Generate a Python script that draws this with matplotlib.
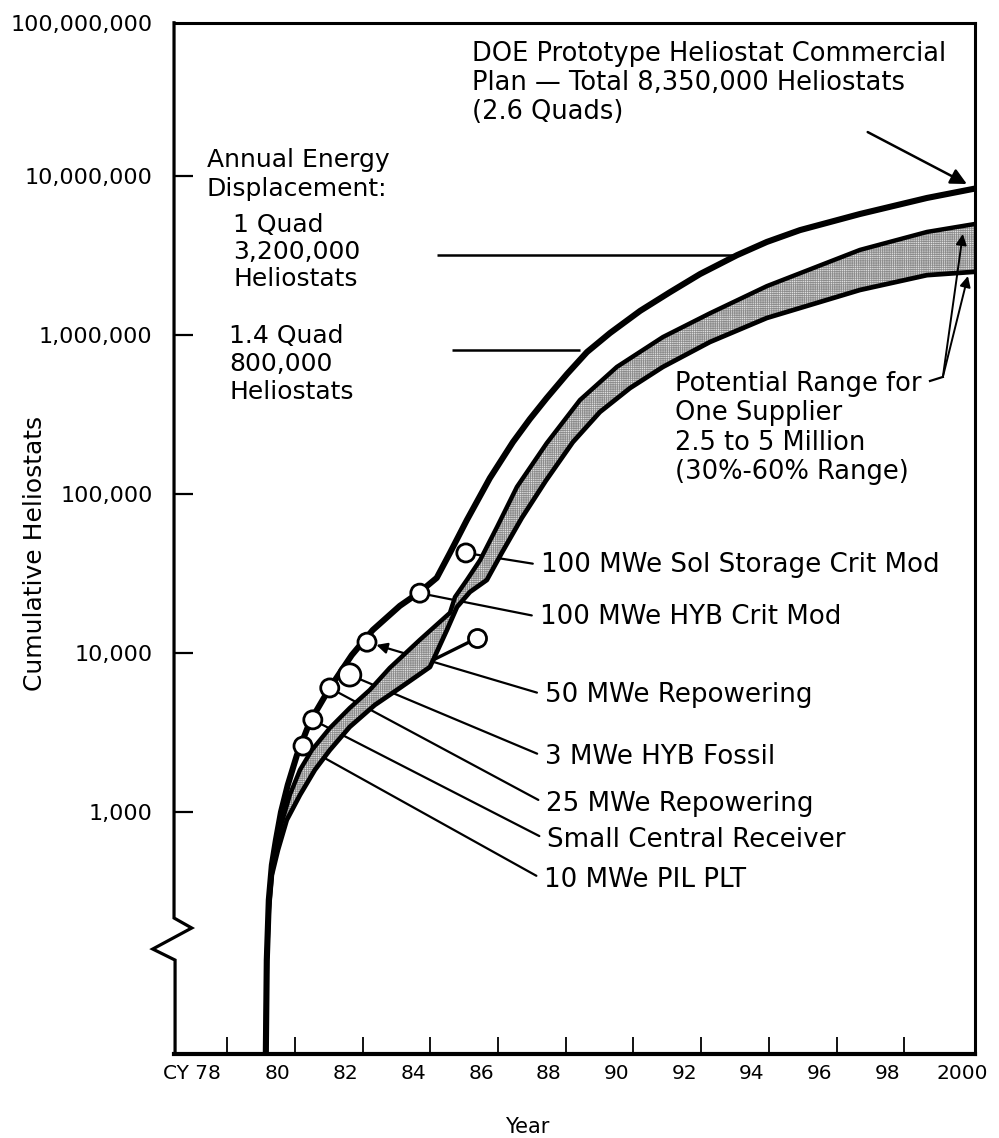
import matplotlib.pyplot as plt
from matplotlib.transforms import ScaledTranslation
from matplotlib.lines import Line2D

plt.rcParams["font.family"] = ["DejaVu Sans"]
plt.rcParams["hatch.linewidth"] = 0.5

# DOE prototype heliostat commercial plan (cumulative heliostats)
plan_year = [79.14, 79.17, 79.23, 79.32, 79.44, 79.59, 79.79, 80.06, 80.44, 81.03,
             81.68, 82.30, 83.10, 83.69, 84.19, 84.58, 85.08, 85.76, 86.44, 86.94,
             87.44, 88.04, 88.63, 89.31, 90.20, 91.08, 91.97, 93.06, 93.94, 94.92,
             96.69, 98.67, 100.1]
plan_count = [28, 117, 280, 464, 667, 1000, 1480, 2280, 3680, 6030,
              9700, 13950, 19800, 24200, 29700, 42600, 68600, 126000, 212000, 296000,
              402000, 569000, 782000, 1.03e6, 1.42e6, 1.86e6, 2.42e6, 3.18e6, 3.85e6, 4.57e6,
              5.77e6, 7.28e6, 8.35e6]

# potential range for one supplier (upper / lower edge of the band)
upper_year = [79.32, 79.41, 79.59, 79.85, 80.15, 80.50, 81.03, 81.62, 82.21, 82.80,
              83.69, 84.58, 84.73, 85.08, 85.47, 85.97, 86.56, 87.44, 88.42, 89.51,
              90.87, 92.26, 93.94, 96.69, 98.67, 100.1]
upper_count = [431, 577, 828, 1280, 1840, 2450, 3370, 4510, 5850, 8050,
               12100, 17900, 22500, 28800, 38400, 62000, 111000, 209000, 390000, 630000,
               971000, 1.37e6, 2.03e6, 3.43e6, 4.45e6, 5.0e6]
lower_year = [79.14, 79.17, 79.23, 79.32, 79.50, 79.76, 80.15, 80.59, 81.03, 81.62,
              82.36, 83.10, 83.99, 84.49, 84.79, 85.17, 85.67, 86.11, 86.70, 87.41,
              88.21, 89.01, 89.90, 90.87, 92.26, 93.94, 96.69, 98.67, 100.1]
lower_count = [28, 117, 242, 402, 577, 891, 1280, 1840, 2450, 3430,
               4710, 6030, 8170, 13950, 19500, 24200, 28800, 42600, 70600, 121000,
               212000, 328000, 464000, 630000, 904000, 1.28e6, 1.92e6, 2.38e6, 2.5e6]

# plants
plant_names = ["100 MWe Sol Storage Crit Mod", "100 MWe HYB Crit Mod", "50 MWe Repowering",
               "3 MWe HYB Fossil", "25 MWe Repowering", "Small Central Receiver",
               "10 MWe PIL PLT"]
plant_year = [85.05, 83.69, 82.13, 81.62, 81.03, 80.53, 80.24]
plant_count = [42600, 23800, 11700, 7280, 6030, 3800, 2600]
label_pos = [(0.4582, 0.4742), (0.4569, 0.4237), (0.4632, 0.3481), (0.4632, 0.2880),
             (0.4644, 0.2424), (0.4657, 0.2075), (0.4619, 0.1687)]
label_head = [False, False, True, False, False, False, False]
marker_size = [13, 13, 13, 16, 13, 13, 13]

branch_year = [84.08, 85.38]
branch_count = [9040, 12400]

# annual energy displacement levels
quad_count = [3.2e6, 8.0e5]
quad_start = [84.19, 84.64]
quad_end = [93.06, 88.42]

# pointers
doe_from, doe_to = (96.92, 1.89e7), (99.85, 8.91e6)
range_hook_year = [98.76, 99.14]
range_hook_count = [514000, 545000]
range_tips = [(99.73, 4.32e6), (99.88, 2.35e6)]

year_ticks = [78, 80, 82, 84, 86, 88, 90, 92, 94, 96, 98, 100]
year_labels = ["CY 78", "80", "82", "84", "86", "88", "90", "92", "94", "96", "98", "2000"]
count_ticks = [1e3, 1e4, 1e5, 1e6, 1e7]
count_labels = ["1,000", "10,000", "100,000", "1,000,000", "10,000,000", "100,000,000"]

fig = plt.figure(figsize=(9.99, 11.38), dpi=100)
ax = fig.add_axes([0.1742, 0.0738, 0.8018, 0.9062])
ax.set_yscale("log")
ax.set_xlim(76.43, 100.09)
ax.set_ylim(10 ** 1.478, 10 ** 7.964)

# band (stippled)
ax.fill(upper_year + lower_year[::-1], upper_count + lower_count[::-1],
        facecolor="#e4e4e4", edgecolor="#8c8c8c", linewidth=0, hatch="+" * 9, zorder=2)
ax.plot(upper_year, upper_count, color="k", lw=3.2, zorder=3, solid_joinstyle="round")
ax.plot(lower_year, lower_count, color="k", lw=3.4, zorder=3, solid_joinstyle="round")
ax.plot(plan_year, plan_count, color="k", lw=4.4, zorder=4, solid_joinstyle="round")

ax.plot(branch_year, branch_count, color="k", lw=2.4, zorder=5)
ax.plot(branch_year[1:], branch_count[1:], "o", ms=13, mfc="white", mec="k", mew=2, zorder=6)
ax.scatter(plant_year, plant_count, s=[m ** 2 for m in marker_size], facecolor="white",
           edgecolor="k", linewidth=2, zorder=6)

for name, x, y, pos, head in zip(plant_names, plant_year, plant_count, label_pos, label_head):
    ax.annotate(name, xy=(x, y), xytext=pos, textcoords="axes fraction",
                ha="left", va="center", fontsize=18.8, zorder=1.5,
                arrowprops=dict(arrowstyle="-|>" if head else "-", color="k", lw=1.6,
                                relpos=(0, 0.5), shrinkA=4, shrinkB=7 if head else 0,
                                mutation_scale=16))

ax.hlines(quad_count, quad_start, quad_end, color="k", lw=1.8, zorder=3)

ax.annotate("", xy=doe_to, xytext=doe_from,
            arrowprops=dict(arrowstyle="-|>", color="k", lw=1.8, mutation_scale=24,
                            shrinkA=0, shrinkB=0))
ax.plot(range_hook_year, range_hook_count, color="k", lw=1.6, zorder=5)
for tip in range_tips:
    ax.annotate("", xy=tip, xytext=(range_hook_year[1], range_hook_count[1]),
                arrowprops=dict(arrowstyle="-|>", color="k", lw=1.4, mutation_scale=16,
                                shrinkA=0, shrinkB=0), zorder=5)

# text blocks
ax.text(0.372, 0.9415, "DOE Prototype Heliostat Commercial\nPlan — Total 8,350,000 Heliostats\n(2.6 Quads)",
        transform=ax.transAxes, ha="left", va="center", fontsize=18.5, linespacing=1.15)
ax.text(0.0408, 0.8528, "Annual Energy\nDisplacement:", transform=ax.transAxes,
        ha="left", va="center", fontsize=18, linespacing=1.25)
ax.text(0.0737, 0.7777, "1 Quad\n3,200,000\nHeliostats", transform=ax.transAxes,
        ha="left", va="center", fontsize=18, linespacing=1.15)
ax.text(0.0687, 0.669, "1.4 Quad\n800,000\nHeliostats", transform=ax.transAxes,
        ha="left", va="center", fontsize=18, linespacing=1.2)
ax.text(0.6255, 0.607, "Potential Range for\nOne Supplier\n2.5 to 5 Million\n(30%-60% Range)",
        transform=ax.transAxes, ha="left", va="center", fontsize=18.5, linespacing=1.16)

# axes
ax.set_xticks(year_ticks)
ax.set_xticklabels(year_labels)
ax.set_yticks(count_ticks + [ax.get_ylim()[1]])
ax.set_yticklabels(count_labels)
ax.minorticks_off()
ax.tick_params(axis="x", direction="in", length=12, width=1.3, pad=7, labelsize=14.5)
ax.tick_params(axis="y", direction="in", length=14, width=1.6, pad=15.5, labelsize=16)
ax.xaxis.get_major_ticks()[-1].tick1line.set_visible(False)
ax.yaxis.get_major_ticks()[-1].tick1line.set_visible(False)

for i, lab in enumerate(ax.get_xticklabels()):
    dx = -0.17
    if i == 0:
        lab.set_ha("right")
        dx = -0.06
    elif i == len(year_ticks) - 1:
        dx = -0.10
    lab.set_transform(lab.get_transform() + ScaledTranslation(dx, 0, fig.dpi_scale_trans))

ax.set_xlabel("Year", fontsize=15)
ax.xaxis.label.set_va("center")
ax.xaxis.set_label_coords(0.4407, -0.0708)
ax.set_ylabel("Cumulative Heliostats", fontsize=18)
ax.yaxis.label.set_va("center")
ax.yaxis.set_label_coords(-0.1735, 0.4858)

ax.spines["left"].set_visible(False)
for side, w in [("top", 2.2), ("right", 2.2), ("bottom", 3.0)]:
    ax.spines[side].set_linewidth(w)
ax.add_line(Line2D([0, 0, 0.0221, -0.0266, 0.0013, 0.0013], [1, 0.1319, 0.1222, 0.1018, 0.0911, 0],
                   transform=ax.transAxes, color="k", lw=2.3, clip_on=False,
                   solid_joinstyle="miter", zorder=7))

fig.savefig("out.png", dpi=100)
